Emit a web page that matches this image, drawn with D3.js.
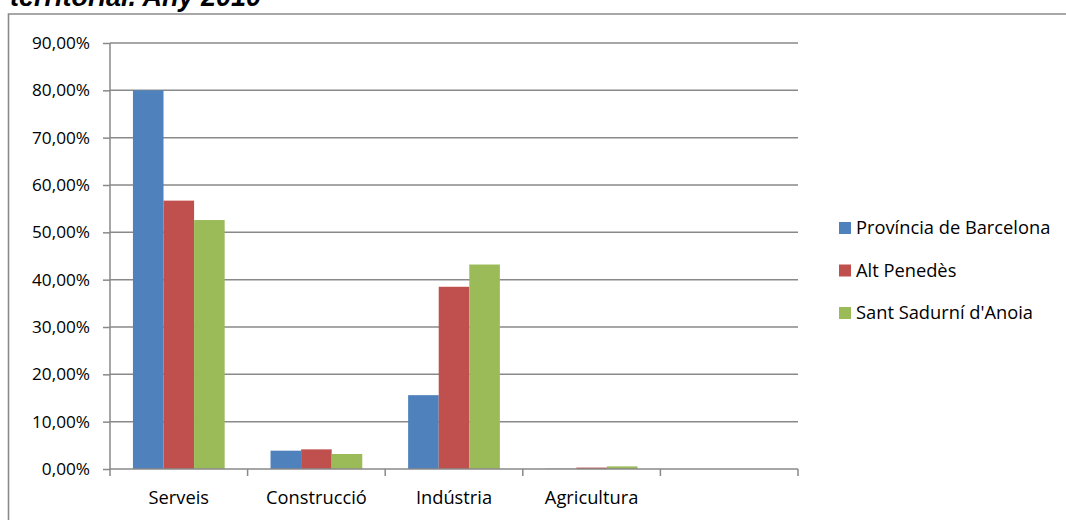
<!DOCTYPE html>
<html>
<head>
<meta charset="utf-8">
<script src="https://cdn.jsdelivr.net/npm/d3@7"></script>
<style>
  html, body { margin: 0; padding: 0; background: #fff; }
  svg { display: block; }
</style>
</head>
<body>
<svg id="chart" width="1066" height="520"></svg>
<script>
const categories = ["Serveis", "Construcció", "Indústria", "Agricultura", ""];
const seriesNames = ["Província de Barcelona", "Alt Penedès", "Sant Sadurní d'Anoia"];
const seriesColors = ["#4F81BD", "#C0504D", "#9BBB59"];
const provinciaBarcelona = [0.800, 0.0387, 0.156, 0.0005, null];
const altPenedes = [0.567, 0.0415, 0.385, 0.003, null];
const santSadurni = [0.526, 0.0317, 0.432, 0.0055, null];
const yTicks = [0, 0.1, 0.2, 0.3, 0.4, 0.5, 0.6, 0.7, 0.8, 0.9];
const titleText = "territorial. Any 2010";

const seriesValues = [provinciaBarcelona, altPenedes, santSadurni];

const svg = d3.select("#chart");
const font = "'Open Sans', 'Liberation Sans', sans-serif";
const gridColor = "#898989";

const plot = { left: 110, right: 798, top: 43, bottom: 469 };

// Outer chart border (right/bottom edges lie outside the picture)
svg.append("path")
  .attr("d", `M8.5,530 L8.5,14 L1080,14`)
  .attr("fill", "none")
  .attr("stroke", "#8a8a8a")
  .attr("stroke-width", 1.6);

// Title (mostly cropped at the top)
svg.append("text")
  .attr("x", 10)
  .attr("y", 6)
  .attr("font-family", "'Liberation Sans', Arial, sans-serif")
  .attr("font-weight", "bold")
  .attr("font-style", "italic")
  .attr("font-size", 27)
  .attr("fill", "#000")
  .text(titleText);

const y = d3.scaleLinear().domain([0, 0.9]).range([plot.bottom, plot.top]);
const x = d3.scaleBand().domain(categories.map((c, i) => i)).range([plot.left, plot.right]).paddingInner(0).paddingOuter(0);

const fmt = v => (v * 100).toFixed(2).replace(".", ",") + "%";

// Gridlines
svg.append("g")
  .selectAll("line")
  .data(yTicks.filter(t => t > 0))
  .join("line")
  .attr("x1", plot.left)
  .attr("x2", plot.right)
  .attr("y1", d => y(d))
  .attr("y2", d => y(d))
  .attr("stroke", gridColor)
  .attr("stroke-width", 1.5);

// Y axis
const yAxis = d3.axisLeft(y).tickValues(yTicks).tickFormat(fmt).tickSize(7).tickPadding(13);
const gy = svg.append("g").attr("transform", `translate(${plot.left},0)`).call(yAxis);
gy.select(".domain").attr("stroke", gridColor).attr("stroke-width", 1.5).attr("d", `M0,${plot.top}V${plot.bottom}`);
gy.selectAll(".tick line").attr("stroke", gridColor).attr("stroke-width", 1.5);
gy.selectAll(".tick text").attr("font-family", font).attr("font-size", 17.2).attr("fill", "#000");

// Bars
const nS = seriesValues.length;
const barW = x.bandwidth() / 4.5;
const groupOffset = (x.bandwidth() - nS * barW) / 2;
const series = svg.append("g");
seriesValues.forEach((vals, s) => {
  series.append("g")
    .selectAll("rect")
    .data(vals.map((v, i) => ({ v, i })).filter(d => d.v != null))
    .join("rect")
    .attr("x", d => x(d.i) + groupOffset + s * barW)
    .attr("y", d => y(d.v))
    .attr("width", barW)
    .attr("height", d => y(0) - y(d.v))
    .attr("fill", seriesColors[s]);
});

// X axis
const xBoundaries = categories.map((c, i) => x(i)).concat([plot.right]);
const gx = svg.append("g");
gx.append("line")
  .attr("x1", plot.left).attr("x2", plot.right)
  .attr("y1", y(0)).attr("y2", y(0))
  .attr("stroke", gridColor).attr("stroke-width", 1.5);
gx.selectAll("line.tick")
  .data(xBoundaries)
  .join("line")
  .attr("class", "tick")
  .attr("x1", d => d).attr("x2", d => d)
  .attr("y1", y(0)).attr("y2", y(0) + 7)
  .attr("stroke", gridColor).attr("stroke-width", 1.5);
gx.selectAll("text")
  .data(categories.map((c, i) => ({ c, i })))
  .join("text")
  .attr("x", d => x(d.i) + x.bandwidth() / 2)
  .attr("y", 498)
  .attr("dy", "0.35em")
  .attr("text-anchor", "middle")
  .attr("font-family", font)
  .attr("font-size", 18.3)
  .attr("fill", "#000")
  .text(d => d.c);

// Legend
const legend = svg.append("g").attr("transform", "translate(839,222)");
seriesNames.forEach((name, s) => {
  const g = legend.append("g").attr("transform", `translate(0,${s * 42.5})`);
  g.append("rect").attr("width", 12).attr("height", 12).attr("fill", seriesColors[s]);
  g.append("text")
    .attr("x", 17)
    .attr("y", 6)
    .attr("dy", "0.35em")
    .attr("font-family", font)
    .attr("font-size", 18.3)
    .attr("fill", "#000")
    .text(name);
});
</script>
</body>
</html>
